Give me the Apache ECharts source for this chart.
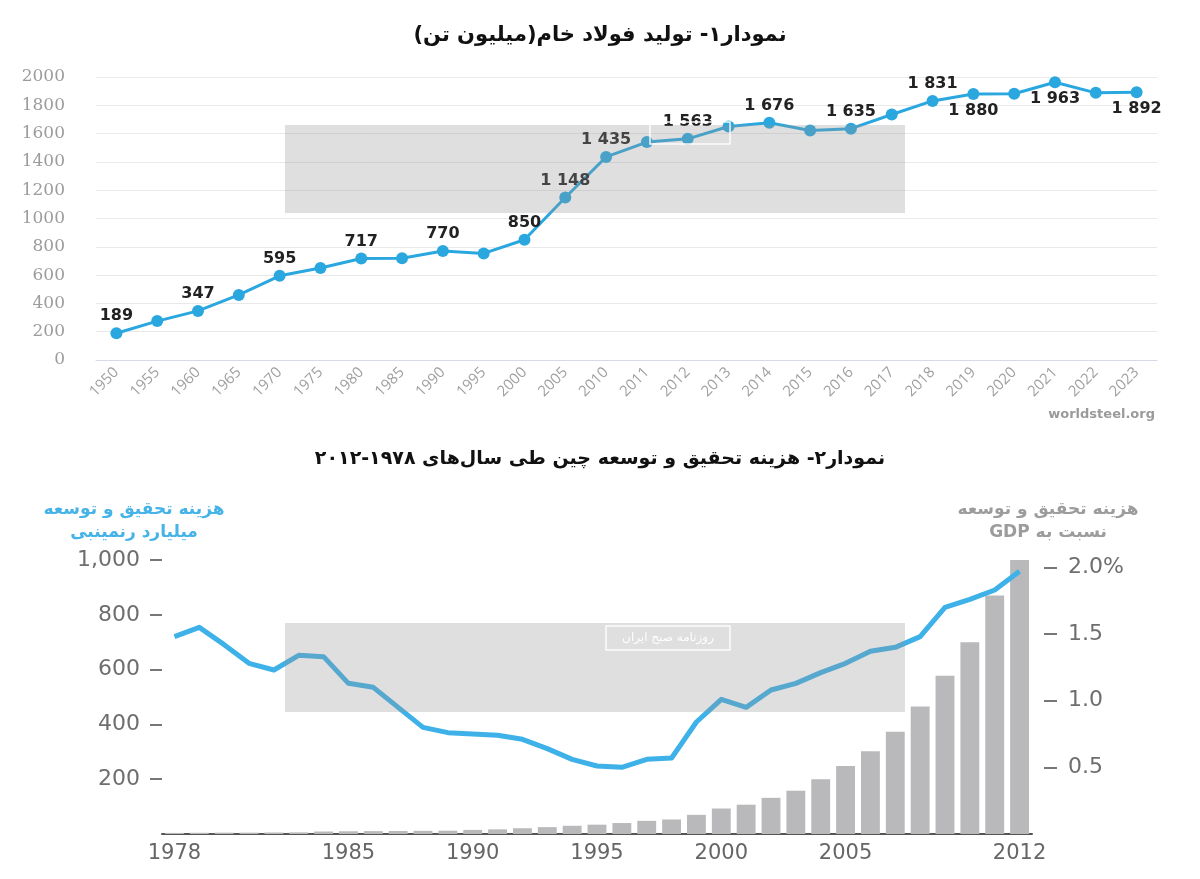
<!DOCTYPE html>
<html><head><meta charset="utf-8">
<script src="https://cdn.jsdelivr.net/npm/echarts@6/dist/echarts.min.js"></script>
<style>html,body{margin:0;padding:0;background:#fff}#c{width:1200px;height:879px}</style>
</head><body><div id="c"></div>
<script>
// ---- Chart 1: crude steel production (million tonnes)
const steelYears = ['1950','1955','1960','1965','1970','1975','1980','1985','1990','1995','2000','2005','2010','2011','2012','2013','2014','2015','2016','2017','2018','2019','2020','2021','2022','2023'];
const steelValues = [189,275,347,460,595,650,717,719,770,753,850,1148,1435,1540,1563,1650,1676,1622,1635,1735,1831,1880,1882,1963,1888,1892];
const steelLabeled = ['1950','1960','1970','1980','1990','2000','2005','2010','2012','2014','2016','2018','2019','2021','2023'];
const steelLabelBelow = ['2019','2021','2023'];

// ---- Chart 2: China R&D spending 1978-2012
const rdYears = ['1978','1979','1980','1981','1982','1983','1984','1985','1986','1987','1988','1989','1990','1991','1992','1993','1994','1995','1996','1997','1998','1999','2000','2001','2002','2003','2004','2005','2006','2007','2008','2009','2010','2011','2012'];
const rdSpending = [4,4.5,5,5,5.5,6,9,10,10.5,11,11.5,12,15,17,21,25,30,34,40,48,53,70,93,107,132,158,200,248,302,373,465,578,700,870,1040];
const rdGdpShare = [1.48,1.55,1.42,1.28,1.23,1.34,1.33,1.13,1.10,0.95,0.80,0.76,0.75,0.74,0.71,0.64,0.56,0.51,0.50,0.56,0.57,0.84,1.01,0.95,1.08,1.13,1.21,1.28,1.37,1.40,1.48,1.70,1.76,1.83,1.97];
const rdYearLabels = ['1978','1985','1990','1995','2000','2005','2012'];
const rdLeftTicks = [200,400,600,800,1000];
const rdRightTicks = [0.5,1.0,1.5,2.0];

const RLE = '\u202B', PDF = '\u202C';
const rtl = s => RLE + s + PDF;
const fmtSteel = v => v >= 1000 ? Math.floor(v/1000) + ' ' + String(v % 1000).padStart(3,'0') : String(v);

const steelData = steelValues.map((v,i) => {
  const y = steelYears[i];
  const show = steelLabeled.includes(y);
  return { value: v, label: { show: show, position: steelLabelBelow.includes(y) ? 'bottom' : 'top' } };
});

const chart = echarts.init(document.getElementById('c'), null, {renderer:'canvas'});
chart.setOption({
  backgroundColor: '#fff',
  animation: false,
  title: [
    { text: rtl('نمودار۱- تولید فولاد خام(میلیون تن)'), left: 'center', top: 20,
      textStyle: { fontFamily: 'DejaVu Sans', fontWeight: 'bold', fontSize: 21, color: '#111' } },
    { text: rtl('نمودار۲- هزینه تحقیق و توسعه چین طی سال‌های ۱۹۷۸-۲۰۱۲'), left: 'center', top: 445,
      textStyle: { fontFamily: 'DejaVu Sans', fontWeight: 'bold', fontSize: 19, color: '#111' } }
  ],
  grid: [
    { left: 96, right: 43, top: 77, height: 283 },
    { left: 162, right: 168, top: 560, height: 274 }
  ],
  xAxis: [
    { type: 'category', gridIndex: 0, data: steelYears, boundaryGap: true,
      axisLine: { lineStyle: { color: '#d6dae8', width: 1 } }, axisTick: { show: false },
      axisLabel: { interval: 0, rotate: 45, color: '#a0a0a0', fontSize: 15, fontFamily: 'Open Sans', margin: 10 } },
    { type: 'category', gridIndex: 1, data: rdYears, boundaryGap: true,
      axisLine: { lineStyle: { color: '#555', width: 2 } }, axisTick: { show: false },
      axisLabel: { interval: 0, color: '#666', fontSize: 21, fontFamily: 'DejaVu Sans', margin: 9,
        formatter: v => rdYearLabels.includes(v) ? v : '' } }
  ],
  yAxis: [
    { type: 'value', gridIndex: 0, min: 0, max: 2000, interval: 200,
      axisLine: { show: false }, axisTick: { show: false },
      splitLine: { lineStyle: { color: '#e9e9e9', width: 1 } },
      axisLabel: { color: '#9c9c9c', fontSize: 17, fontFamily: 'DejaVu Serif', margin: 31,
        formatter: v => String(v) } },
    { type: 'value', gridIndex: 1, min: 0, max: 1000, interval: 200, position: 'left',
      axisLine: { show: false }, splitLine: { show: false },
      axisTick: { show: true, length: 12, customValues: rdLeftTicks, lineStyle: { color: '#777', width: 2 } },
      axisLabel: { customValues: rdLeftTicks, color: '#6e6e6e', fontSize: 22, fontFamily: 'DejaVu Sans', margin: 22,
        formatter: v => v.toLocaleString('en-US') } },
    { type: 'value', gridIndex: 1, min: 0, max: 2.055, position: 'right', offset: 12,
      axisLine: { show: false }, splitLine: { show: false },
      axisTick: { show: true, length: 13, customValues: rdRightTicks, lineStyle: { color: '#777', width: 2 } },
      axisLabel: { customValues: rdRightTicks, color: '#6e6e6e', fontSize: 22, fontFamily: 'DejaVu Sans', margin: 24,
        formatter: v => Math.abs(v - 2) < 1e-9 ? '2.0%' : v.toFixed(1) } }
  ],
  series: [
    { type: 'line', xAxisIndex: 0, yAxisIndex: 0, data: steelData,
      symbol: 'circle', symbolSize: 12, z: 5,
      lineStyle: { color: '#2aa7df', width: 3 }, itemStyle: { color: '#2aa7df' },
      label: { distance: 3, color: '#222', fontWeight: 'bold', fontSize: 16, fontFamily: 'DejaVu Sans',
        formatter: p => fmtSteel(p.value) } },
    { type: 'bar', xAxisIndex: 1, yAxisIndex: 1, data: rdSpending, barWidth: '76%',
      itemStyle: { color: '#b9b9bb' }, z: 2 },
    { type: 'line', xAxisIndex: 1, yAxisIndex: 2, data: rdGdpShare, symbol: 'none', z: 4,
      lineStyle: { color: '#3db1e8', width: 5, join: 'round' } }
  ],
  graphic: [
    { type: 'text', right: 45, top: 408, style: { text: 'worldsteel.org', fill: '#9a9a9a', font: 'bold 13px "DejaVu Sans"' } },
    { type: 'text', x: 134, y: 510, style: { text: rtl('هزینه تحقیق و توسعه'), fill: '#45b3e7', font: 'bold 17px "DejaVu Sans"', align: 'center', verticalAlign: 'middle' } },
    { type: 'text', x: 134, y: 533, style: { text: rtl('میلیارد رنمینبی'), fill: '#45b3e7', font: 'bold 17px "DejaVu Sans"', align: 'center', verticalAlign: 'middle' } },
    { type: 'text', x: 1048, y: 510, style: { text: rtl('هزینه تحقیق و توسعه'), fill: '#9c9c9c', font: 'bold 17px "DejaVu Sans"', align: 'center', verticalAlign: 'middle' } },
    { type: 'text', x: 1048, y: 533, style: { text: rtl('نسبت به GDP'), fill: '#9c9c9c', font: 'bold 17px "DejaVu Sans"', align: 'center', verticalAlign: 'middle' } },
    // watermark panels
    { type: 'rect', z: 100, shape: { x: 285, y: 125, width: 620, height: 88 }, style: { fill: 'rgba(150,150,150,0.3)' } },
    { type: 'rect', z: 100, shape: { x: 285, y: 623, width: 620, height: 89 }, style: { fill: 'rgba(150,150,150,0.3)' } },
    { type: 'rect', z: 102, shape: { x: 606, y: 626, width: 124, height: 24 }, style: { fill: 'none', stroke: 'rgba(255,255,255,0.9)', lineWidth: 1.5 } },
    { type: 'text', z: 102, x: 668, y: 638, style: { text: rtl('روزنامه صبح ایران'), fill: 'rgba(255,255,255,0.95)', font: '12px "DejaVu Sans"', align: 'center', verticalAlign: 'middle' } },
    { type: 'rect', z: 102, shape: { x: 650, y: 122, width: 80, height: 22 }, style: { fill: 'none', stroke: 'rgba(255,255,255,0.9)', lineWidth: 1.5 } }
  ]
});
</script></body></html>
